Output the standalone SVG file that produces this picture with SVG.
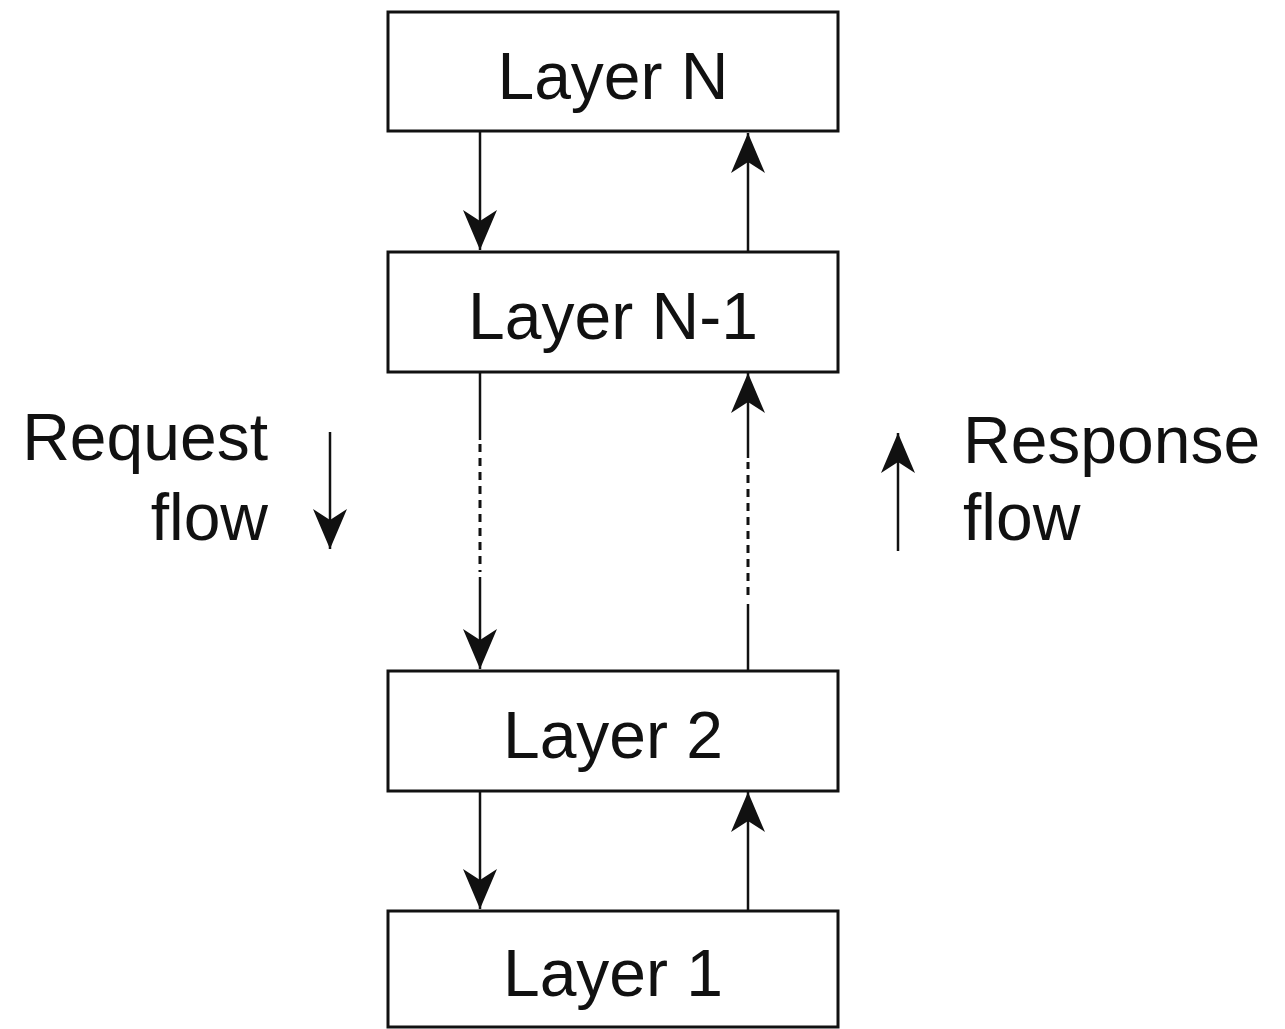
<svg xmlns="http://www.w3.org/2000/svg" width="1285" height="1029" viewBox="0 0 1285 1029">
<defs>
<style>
.box{fill:#fff;stroke:#111;stroke-width:3}
.lbl{font-family:"Liberation Sans",Arial,sans-serif;font-size:66px;fill:#111;text-anchor:middle}
.side{font-family:"Liberation Sans",Arial,sans-serif;font-size:66px;fill:#111}
.ln{stroke:#111;stroke-width:2.5;fill:none}
.dash{stroke:#111;stroke-width:3;fill:none;stroke-dasharray:8 6}
</style>
<marker id="ah" markerUnits="userSpaceOnUse" viewBox="0 -18 42 36" refX="40" refY="0" markerWidth="42" markerHeight="36" orient="auto">
<path d="M40,0 L0,-17 L11,0 L0,17 Z" fill="#111"/>
</marker>
</defs>
<rect width="1285" height="1029" fill="#fff"/>
<g id="layerN"><rect class="box" x="388" y="12" width="450" height="119"/><text class="lbl" x="613" y="99">Layer N</text></g>
<g id="layerN1"><rect class="box" x="388" y="252" width="450" height="120"/><text class="lbl" x="613" y="339">Layer N-1</text></g>
<g id="layer2"><rect class="box" x="388" y="671" width="450" height="120"/><text class="lbl" x="613" y="758">Layer 2</text></g>
<g id="layer1"><rect class="box" x="388" y="911" width="450" height="116"/><text class="lbl" x="613" y="996">Layer 1</text></g>
<g id="connectors">
<line class="ln" x1="480" y1="132" x2="480" y2="250" marker-end="url(#ah)"/>
<line class="ln" x1="748" y1="251" x2="748" y2="133" marker-end="url(#ah)"/>
<line class="ln" x1="480" y1="373" x2="480" y2="440"/>
<line class="dash" x1="480" y1="444" x2="480" y2="572"/>
<line class="ln" x1="480" y1="577" x2="480" y2="669" marker-end="url(#ah)"/>
<line class="ln" x1="748" y1="670" x2="748" y2="604"/>
<line class="dash" x1="748" y1="595" x2="748" y2="462"/>
<line class="ln" x1="748" y1="458" x2="748" y2="373" marker-end="url(#ah)"/>
<line class="ln" x1="480" y1="792" x2="480" y2="909" marker-end="url(#ah)"/>
<line class="ln" x1="748" y1="910" x2="748" y2="792" marker-end="url(#ah)"/>
</g>
<g id="request">
<text class="side" x="268" y="460" text-anchor="end">Request</text>
<text class="side" x="268" y="540" text-anchor="end">flow</text>
<line class="ln" x1="330" y1="432" x2="330" y2="549" marker-end="url(#ah)"/>
</g>
<g id="response">
<text class="side" x="963" y="463">Response</text>
<text class="side" x="963" y="540">flow</text>
<line class="ln" x1="898" y1="551" x2="898" y2="433" marker-end="url(#ah)"/>
</g>
</svg>
